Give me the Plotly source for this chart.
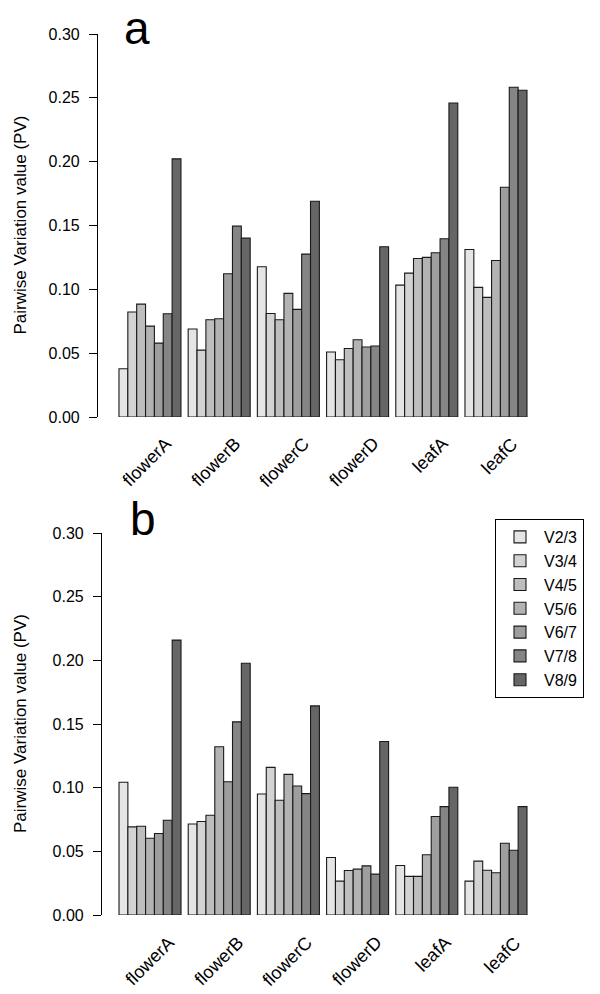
import plotly.graph_objects as go

# data
tissues = ["flowerA", "flowerB", "flowerC", "flowerD", "leafA", "leafC"]
pairs = ["V2/3", "V3/4", "V4/5", "V5/6", "V6/7", "V7/8", "V8/9"]
greys = ["#E5E5E5", "#D3D3D3", "#BEBEBE", "#B3B3B3", "#9E9E9E", "#858585", "#666666"]

# panel a: one list per pairwise comparison, values per tissue
pv_a = {
    "V2/3": [0.0378, 0.0689, 0.1177, 0.0509, 0.1033, 0.1312],
    "V3/4": [0.0822, 0.0524, 0.0811, 0.0449, 0.1127, 0.1015],
    "V4/5": [0.0884, 0.0762, 0.0762, 0.0537, 0.1242, 0.0937],
    "V5/6": [0.0712, 0.0770, 0.0968, 0.0605, 0.1250, 0.1226],
    "V6/7": [0.0579, 0.1122, 0.0843, 0.0548, 0.1286, 0.1800],
    "V7/8": [0.0809, 0.1495, 0.1276, 0.0556, 0.1396, 0.2583],
    "V8/9": [0.2022, 0.1401, 0.1690, 0.1333, 0.2460, 0.2559],
}
# panel b
pv_b = {
    "V2/3": [0.1042, 0.0715, 0.0950, 0.0452, 0.0389, 0.0266],
    "V3/4": [0.0692, 0.0734, 0.1159, 0.0266, 0.0303, 0.0423],
    "V4/5": [0.0697, 0.0783, 0.0901, 0.0350, 0.0303, 0.0352],
    "V5/6": [0.0603, 0.1321, 0.1104, 0.0360, 0.0473, 0.0332],
    "V6/7": [0.0640, 0.1047, 0.1013, 0.0386, 0.0773, 0.0564],
    "V7/8": [0.0744, 0.1517, 0.0953, 0.0321, 0.0851, 0.0509],
    "V8/9": [0.2159, 0.1977, 0.1642, 0.1363, 0.1003, 0.0851],
}
y_ticks = [0.00, 0.05, 0.10, 0.15, 0.20, 0.25, 0.30]

FONT = "Liberation Sans, Arial, Helvetica, sans-serif"
W, H = 600, 994

fig = go.Figure()

for i, p in enumerate(pairs):
    fig.add_trace(go.Bar(
        x=tissues, y=pv_a[p], name=p, xaxis="x", yaxis="y",
        marker=dict(color=greys[i], line=dict(color="#1a1a1a", width=1.1)),
        showlegend=False, legendgroup=p,
    ))
    fig.add_trace(go.Bar(
        x=tissues, y=pv_b[p], name=p, xaxis="x2", yaxis="y2",
        marker=dict(color=greys[i], line=dict(color="#1a1a1a", width=1.1)),
        showlegend=True, legendgroup=p,
    ))

# pixel layout helpers
def px_x(v):
    return v / W

def px_y(v):
    return 1 - v / H

yax = dict(
    range=[0, 0.30], tickvals=y_ticks, tickformat=".2f",
    showline=True, linecolor="black", linewidth=1.2,
    ticks="outside", ticklen=8, tickwidth=1.2, tickcolor="black",
    ticklabelstandoff=6,
    tickfont=dict(family=FONT, size=16, color="black"),
    showgrid=False, zeroline=False, automargin=False,
)
xax = dict(
    showline=False, ticks="", showgrid=False, zeroline=False,
    showticklabels=False, automargin=False,
)

fig.update_layout(
    template="none",
    width=W, height=H,
    margin=dict(l=0, r=0, t=0, b=0, pad=0),
    paper_bgcolor="white", plot_bgcolor="white",
    barmode="group", bargap=0.104, bargroupgap=0,
    font=dict(family=FONT, color="black"),
    xaxis=dict(domain=[px_x(98), px_x(540)], range=[-0.751, 5.636],
               anchor="y", **xax),
    yaxis=dict(domain=[px_y(417), px_y(34)], anchor="x", **yax),
    xaxis2=dict(domain=[px_x(102), px_x(540)], range=[-0.694, 5.636],
                anchor="y2", **xax),
    yaxis2=dict(domain=[px_y(915), px_y(533)], anchor="x2", **yax),
    legend=dict(
        x=px_x(495), y=px_y(519), xanchor="left", yanchor="top",
        bordercolor="black", borderwidth=1, bgcolor="white",
        font=dict(family=FONT, size=16, color="black"),
        traceorder="normal", itemwidth=38,
        tracegroupgap=0,
    ),
)

# rotated category labels, end of text near the lower right of each group
for xref, yref, dx, dy in (("x", "y", 28, -14), ("x2", "y2", 31, -15)):
    for t in tissues:
        fig.add_annotation(
            text=t, textangle=-45, x=t, y=0, xref=xref, yref=yref,
            xanchor="right", yanchor="top", xshift=dx, yshift=dy,
            showarrow=False, font=dict(family=FONT, size=18, color="black"),
        )

# axis titles and panel letters
for yref in ("y domain", "y2 domain"):
    fig.add_annotation(
        text="Pairwise Variation value (PV)", textangle=-90,
        xref="paper", x=px_x(20), yref=yref, y=0.5,
        xanchor="center", yanchor="middle", showarrow=False,
        font=dict(family=FONT, size=17, color="black"),
    )

fig.add_annotation(text="a", xref="paper", x=px_x(137), yref="paper", y=1,
                   xanchor="center", yanchor="top", showarrow=False,
                   font=dict(family=FONT, size=46, color="black"))
fig.add_annotation(text="b", xref="paper", x=px_x(143), yref="paper", y=px_y(547),
                   xanchor="center", yanchor="bottom", showarrow=False,
                   font=dict(family=FONT, size=46, color="black"))

# drop the browser's default body margin so the figure sits at the top-left corner
fig.write_html("out.html", config={"displayModeBar": False},
               post_script="document.body.style.margin='0';")
